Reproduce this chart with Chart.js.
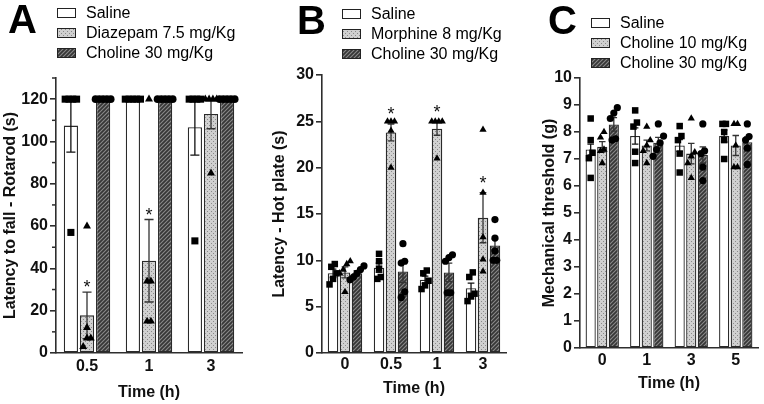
<!DOCTYPE html>
<html><head><meta charset="utf-8">
<script src="https://cdn.jsdelivr.net/npm/chart.js@4"></script>
<style>
html,body{margin:0;padding:0;background:#fff;}
#wrap{position:relative;width:764px;height:404px;overflow:hidden;background:#fff;}
.panel{position:absolute;top:0;height:404px;}
canvas{display:block;}
</style></head><body>
<div id="wrap">
<div class="panel" style="left:0;width:252px"><canvas id="cA" width="252" height="404"></canvas></div>
<div class="panel" style="left:252px;width:258px"><canvas id="cB" width="258" height="404"></canvas></div>
<div class="panel" style="left:510px;width:254px"><canvas id="cC" width="254" height="404"></canvas></div>
</div>
<script>
// ---------------- DATA ----------------
// Panel A: Rotarod
const timeA = ['0.5', '1', '3'];
const salineA = [107.5, 120, 106.7];
const salineA_sem = [12.5, 0, 13.2];
const diazepamA = [17.8, 43.6, 113];
const diazepamA_sem = [11, 19.5, 7];
const cholineA = [120, 120, 120];
const cholineA_sem = [0, 0, 0];
const salineA_pts = [[120, 120, 120, 120, 57], [120, 120, 120, 120, 120], [120, 120, 120, 120, 53]];
const diazepamA_pts = [[60, 12, 7, 7, 3], [120, 34, 34, 15, 15], [120, 120, 120, 120, 85]];
const cholineA_pts = [[120, 120, 120, 120, 120], [120, 120, 120, 120, 120], [120, 120, 120, 120, 120]];
const diazepamA_sig = [true, true, false];

// Panel B: Hot plate
const timeB = ['0', '0.5', '1', '3'];
const salineB = [8.6, 9.2, 7.9, 7.0];
const salineB_sem = [0.45, 0.5, 0.4, 0.55];
const morphineB = [8.7, 23.8, 24.2, 14.6];
const morphineB_sem = [0.6, 0.9, 0.7, 2.7];
const cholineB = [8.6, 8.8, 8.7, 11.6];
const cholineB_sem = [0.3, 1.2, 1.0, 0.7];
const salineB_pts = [[9.6, 9.3, 8.6, 8.0, 7.4], [10.7, 9.9, 9.1, 8.2, 8.0], [8.9, 8.6, 7.8, 7.3, 6.9], [8.7, 8.2, 6.4, 6.1, 5.6]];
const morphineB_pts = [[9.9, 9.6, 9.0, 8.6, 6.6], [25, 25, 25, 24, 20], [25, 25, 25, 25, 21], [24.1, 17.3, 12.5, 10.1, 8.8]];
const cholineB_pts = [[9.4, 9.0, 8.6, 8.2, 7.9], [11.8, 9.9, 9.7, 6.6, 6.0], [10.6, 10.3, 9.9, 6.5, 6.5], [14.4, 12.4, 11.0, 10.0, 10.0]];
const morphineB_sig = [false, true, true, true];

// Panel C: Mechanical threshold
const timeC = ['0', '1', '3', '5'];
const salineC = [7.35, 7.85, 7.5, 7.85];
const salineC_sem = [0.2, 0.3, 0.22, 0.22];
const choline10C = [7.45, 7.5, 7.2, 7.5];
const choline10C_sem = [0.19, 0.2, 0.38, 0.37];
const choline30C = [8.28, 7.6, 7.15, 7.62];
const choline30C_sem = [0.25, 0.2, 0.3, 0.2];
const salineC_pts = [[8.5, 7.7, 7.23, 7.03, 6.3], [8.8, 8.35, 8.2, 7.27, 6.85], [8.22, 7.85, 7.7, 7.2, 6.5], [8.3, 8.3, 8.0, 7.7, 7.0]];
const choline10C_pts = [[8.0, 7.8, 7.35, 7.3, 6.85], [8.2, 7.7, 7.5, 7.3, 6.85], [8.5, 7.25, 7.1, 6.85, 6.3], [8.3, 8.3, 7.5, 6.7, 6.7]];
const choline30C_pts = [[8.9, 8.7, 8.5, 7.75, 7.7], [8.3, 7.85, 7.6, 7.35, 7.1], [8.3, 7.3, 7.2, 6.7, 6.2], [8.3, 7.83, 7.7, 7.4, 6.8]];

// ---------------- STYLE ----------------
const FONT = '"Liberation Sans", Arial, Helvetica, sans-serif';
const AX = '#2e2e2e';
const TXT = '#111';
const CP = 0.78, BP = 0.88;

function dotPattern() {
  const c = document.createElement('canvas'); c.width = 4; c.height = 4;
  const g = c.getContext('2d');
  g.fillStyle = '#d0d0d0'; g.fillRect(0, 0, 4, 4);
  g.fillStyle = '#8a8a8a'; g.fillRect(1, 1, 1, 1); g.fillRect(3, 3, 1, 1);
  return g.createPattern(c, 'repeat');
}
function hatchPattern() {
  const s = 4;
  const c = document.createElement('canvas'); c.width = s; c.height = s;
  const g = c.getContext('2d');
  g.fillStyle = '#363636'; g.fillRect(0, 0, s, s);
  g.strokeStyle = '#8a8a8a'; g.lineWidth = 1.1;
  g.beginPath();
  g.moveTo(0, s); g.lineTo(s, 0);
  g.moveTo(-1, 1); g.lineTo(1, -1);
  g.moveTo(s - 1, s + 1); g.lineTo(s + 1, s - 1);
  g.stroke();
  return g.createPattern(c, 'repeat');
}
const FILL_WHITE = '#ffffff';
const FILL_DOT = dotPattern();
const FILL_HATCH = hatchPattern();

// spread points that share (nearly) the same value side by side (offsets in marker steps)
function swarm(vals, tol) {
  const idx = vals.map((v, k) => k).sort((a, b) => vals[a] - vals[b]);
  const offs = new Array(vals.length).fill(0);
  let cluster = [idx[0]];
  const flush = () => { const m = cluster.length; cluster.forEach((k, j) => { offs[k] = (j - (m - 1) / 2); }); };
  for (let j = 1; j < idx.length; j++) {
    if (vals[idx[j]] - vals[cluster[cluster.length - 1]] <= tol) cluster.push(idx[j]);
    else { flush(); cluster = [idx[j]]; }
  }
  flush();
  return offs;
}

function drawMarker(ctx, style, r, x, y) {
  if (Chart.helpers && Chart.helpers.drawPoint) {
    Chart.helpers.drawPoint(ctx, { pointStyle: style, radius: r, rotation: 0, borderWidth: 0 }, x, y);
    return;
  }
  ctx.beginPath();
  if (style === 'rect') { const s = r * Math.SQRT1_2; ctx.rect(x - s, y - s, 2 * s, 2 * s); }
  else if (style === 'triangle') { ctx.moveTo(x, y - r); ctx.lineTo(x + r * 0.866, y + r * 0.5); ctx.lineTo(x - r * 0.866, y + r * 0.5); ctx.closePath(); }
  else { ctx.arc(x, y, r, 0, Math.PI * 2); }
  ctx.fill();
}

// ---------------- PLUGINS ----------------
// error bars (+ significance stars) drawn right after each bar dataset
const errorBars = {
  id: 'errorBars',
  afterDatasetDraw(chart, args, o) {
    const ds = chart.data.datasets[args.index];
    if (!ds.errors) return;
    const y = chart.scales.y, ctx = chart.ctx;
    ctx.save();
    ctx.strokeStyle = ds.errColor; ctx.lineWidth = 1.3;
    args.meta.data.forEach((bar, i) => {
      const e = ds.errors[i], m = ds.data[i];
      const x = bar.x, cap = bar.width * 0.32;
      const yt = y.getPixelForValue(m + e), yb = y.getPixelForValue(m - e);
      if (e > 0) {
        ctx.beginPath();
        ctx.moveTo(x, yt); ctx.lineTo(x, yb);
        ctx.moveTo(x - cap, yt); ctx.lineTo(x + cap, yt);
        ctx.moveTo(x - cap, yb); ctx.lineTo(x + cap, yb);
        ctx.stroke();
      }
      if (ds.sig && ds.sig[i]) {
        ctx.fillStyle = '#111';
        ctx.font = '18px ' + FONT;
        ctx.textAlign = 'center'; ctx.textBaseline = 'alphabetic';
        ctx.fillText('*', x, yt + 9 - o.starGap);
      }
    });
    ctx.restore();
  }
};

// individual animals: placed on each bar through the chart's own x (bar) and y scales
const individualPoints = {
  id: 'individualPoints',
  afterDatasetsDraw(chart, args, o) {
    const ctx = chart.ctx, y = chart.scales.y;
    ctx.save();
    ctx.fillStyle = '#000';
    chart.data.datasets.forEach((ds, di) => {
      if (!ds.points) return;
      const meta = chart.getDatasetMeta(di);
      meta.data.forEach((bar, c) => {
        const vals = ds.points[c];
        const offs = swarm(vals, o.tol);
        vals.forEach((v, k) => drawMarker(ctx, ds.marker, ds.markerRadius, bar.x + offs[k] * o.step, y.getPixelForValue(v)));
      });
    });
    ctx.restore();
  }
};

const panelDecor = {
  id: 'panelDecor',
  afterDraw(chart, args, o) {
    const ctx = chart.ctx;
    ctx.save();
    if (o.minorStep) {
      const ys = chart.scales.y;
      ctx.strokeStyle = AX; ctx.lineWidth = 1.5;
      for (let v = o.minorStep / 2; v <= ys.max + 1e-9; v += o.minorStep) {
        const p = ys.getPixelForValue(v);
        ctx.beginPath(); ctx.moveTo(chart.chartArea.left - 4, p); ctx.lineTo(chart.chartArea.left, p); ctx.stroke();
      }
    }
    ctx.fillStyle = '#000';
    ctx.font = 'bold 40px ' + FONT;
    ctx.textAlign = 'left'; ctx.textBaseline = 'alphabetic';
    ctx.fillText(o.letter, o.letterX, o.letterY);
    const bars = chart.data.datasets;
    ctx.font = '16px ' + FONT;
    ctx.textBaseline = 'middle';
    bars.forEach((d, i) => {
      const yy = o.legendY + i * o.legendGap;
      ctx.fillStyle = d.backgroundColor;
      ctx.fillRect(o.legendX, yy - 5, 19, 10);
      ctx.strokeStyle = '#222'; ctx.lineWidth = 1;
      ctx.strokeRect(o.legendX + 0.5, yy - 4.5, 18, 9);
      ctx.fillStyle = '#000';
      ctx.fillText(d.label, o.legendX + 29, yy + 1);
    });
    ctx.restore();
  }
};

// ---------------- BUILD ----------------
function makePanel(id, cfg) {
  const datasets = cfg.series.map(s => ({
    type: 'bar', label: s.label, data: s.means, errors: s.sem, sig: s.sig || null,
    points: s.points, marker: s.marker, markerRadius: s.radius,
    errColor: s.errColor, backgroundColor: s.fill, borderColor: '#2a2a2a', borderWidth: 1.3,
    borderSkipped: false, categoryPercentage: CP, barPercentage: BP
  }));
  const tickFont = { family: FONT, size: 16, weight: 'bold' };
  return new Chart(document.getElementById(id), {
    type: 'bar',
    data: { labels: cfg.labels, datasets },
    plugins: [errorBars, individualPoints, panelDecor],
    options: {
      responsive: false, animation: false, events: [],
      layout: { padding: { top: cfg.top, right: cfg.right, left: 0, bottom: 0 } },
      plugins: {
        legend: { display: false }, tooltip: { enabled: false },
        panelDecor: cfg.decor, individualPoints: { tol: cfg.tol, step: cfg.step },
        errorBars: { starGap: cfg.starGap }
      },
      scales: {
        x: {
          type: 'category', offset: true,
          border: { display: true, color: AX, width: 1.6 },
          grid: { display: false, drawTicks: false },
          ticks: { padding: cfg.xTickPad, color: TXT, font: tickFont },
          title: { display: true, text: 'Time (h)', color: TXT, font: tickFont, padding: { top: 0, bottom: cfg.xTitlePad } },
          afterFit(s) { s.height = cfg.xHeight; }
        },
        y: {
          min: 0, max: cfg.yMax,
          border: { display: true, color: AX, width: 1.6 },
          grid: { display: true, drawOnChartArea: false, drawTicks: true, tickLength: 6, color: AX, lineWidth: 1.6 },
          ticks: { stepSize: cfg.yStep, includeBounds: false, padding: 2, color: TXT, font: tickFont },
          title: { display: true, text: cfg.yTitle, color: TXT, font: tickFont, padding: { top: cfg.yTitlePad, bottom: 0 } },
          afterFit(s) { s.width = cfg.yWidth; }
        }
      }
    }
  });
}

makePanel('cA', {
  labels: timeA, yMax: 130, yStep: 20, yTitle: 'Latency to fall - Rotarod (s)',
  top: 78, right: 10, yWidth: 56, xHeight: 51, xTickPad: 4, xTitlePad: 2, yTitlePad: 1,
  tol: 4, step: 3.8, starGap: 8,
  decor: { letter: 'A', letterX: 8, letterY: 33, legendX: 57, legendY: 13, legendGap: 20, minorStep: 20 },
  series: [
    { label: 'Saline', means: salineA, sem: salineA_sem, points: salineA_pts, fill: FILL_WHITE, errColor: '#111', marker: 'rect', radius: 5 },
    { label: 'Diazepam 7.5 mg/Kg', means: diazepamA, sem: diazepamA_sem, sig: diazepamA_sig, points: diazepamA_pts, fill: FILL_DOT, errColor: '#333', marker: 'triangle', radius: 4.6 },
    { label: 'Choline 30 mg/Kg', means: cholineA, sem: cholineA_sem, points: cholineA_pts, fill: FILL_HATCH, errColor: '#333', marker: 'circle', radius: 3.8 }
  ]
});

makePanel('cB', {
  labels: timeB, yMax: 30, yStep: 5, yTitle: 'Latency - Hot plate (s)',
  top: 75, right: 4, yWidth: 70, xHeight: 51, xTickPad: 2, xTitlePad: 6, yTitlePad: 18,
  tol: 0.7, step: 3.5, starGap: 13,
  decor: { letter: 'B', letterX: 45, letterY: 34, legendX: 90, legendY: 14, legendGap: 20 },
  series: [
    { label: 'Saline', means: salineB, sem: salineB_sem, points: salineB_pts, fill: FILL_WHITE, errColor: '#111', marker: 'rect', radius: 4.6 },
    { label: 'Morphine 8 mg/Kg', means: morphineB, sem: morphineB_sem, sig: morphineB_sig, points: morphineB_pts, fill: FILL_DOT, errColor: '#333', marker: 'triangle', radius: 4.2 },
    { label: 'Choline 30 mg/Kg', means: cholineB, sem: cholineB_sem, points: cholineB_pts, fill: FILL_HATCH, errColor: '#333', marker: 'circle', radius: 3.6 }
  ]
});

makePanel('cC', {
  labels: timeC, yMax: 10, yStep: 1, yTitle: 'Mechanical threshold (g)',
  top: 78, right: 6, yWidth: 70, xHeight: 56, xTickPad: 3, xTitlePad: 11, yTitlePad: 30,
  tol: 0.25, step: 3.5, starGap: 10,
  decor: { letter: 'C', letterX: 38, letterY: 34, legendX: 81, legendY: 23, legendGap: 20 },
  series: [
    { label: 'Saline', means: salineC, sem: salineC_sem, points: salineC_pts, fill: FILL_WHITE, errColor: '#111', marker: 'rect', radius: 4.6 },
    { label: 'Choline 10 mg/Kg', means: choline10C, sem: choline10C_sem, points: choline10C_pts, fill: FILL_DOT, errColor: '#333', marker: 'triangle', radius: 4.2 },
    { label: 'Choline 30 mg/Kg', means: choline30C, sem: choline30C_sem, points: choline30C_pts, fill: FILL_HATCH, errColor: '#333', marker: 'circle', radius: 3.6 }
  ]
});
</script>
</body></html>
